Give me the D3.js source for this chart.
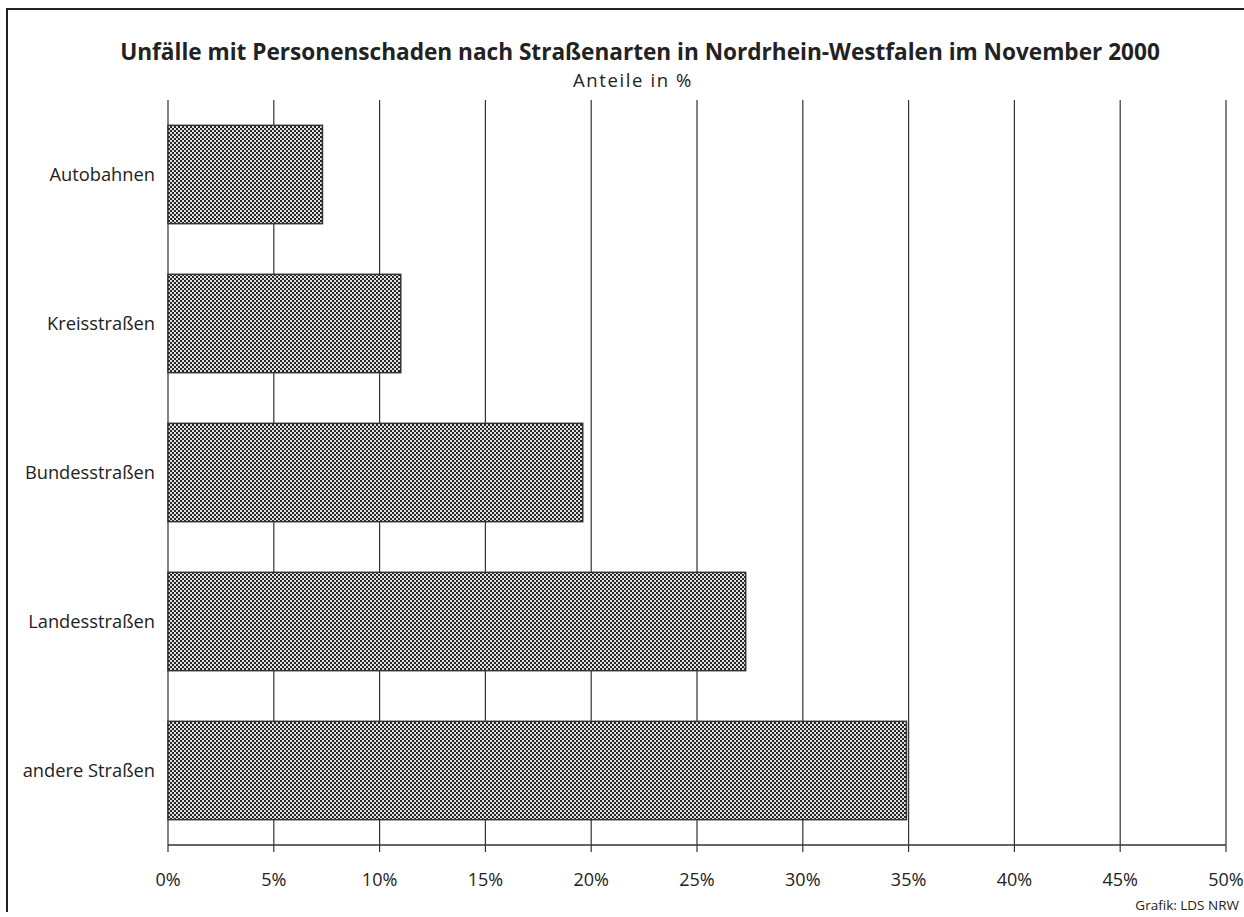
<!DOCTYPE html>
<html><head><meta charset="utf-8">
<script src="https://cdn.jsdelivr.net/npm/d3@7"></script>
<style>body{margin:0;background:#fff}svg{display:block}text{font-family:"Open Sans",sans-serif;fill:#222}</style>
</head><body><svg id="c" width="1244" height="917"></svg>
<script>
const categories = ["Autobahnen","Kreisstraßen","Bundesstraßen","Landesstraßen","andere Straßen"];
const values = [7.3, 11.0, 19.6, 27.3, 34.9];
const tickValues = [0,5,10,15,20,25,30,35,40,45,50];
const tickLabels = ["0%","5%","10%","15%","20%","25%","30%","35%","40%","45%","50%"];

const svg = d3.select("#c");
const defs = svg.append("defs");
const pat = defs.append("pattern").attr("id","chk").attr("patternUnits","userSpaceOnUse").attr("width",4).attr("height",4);
pat.append("rect").attr("width",4).attr("height",4).attr("fill","#e2e2e2");
pat.append("rect").attr("x",0).attr("y",0).attr("width",2).attr("height",2).attr("fill","#262626");
pat.append("rect").attr("x",2).attr("y",2).attr("width",2).attr("height",2).attr("fill","#262626");

// frame
svg.append("path").attr("d","M7,912 L7,9 L1244,9").attr("fill","none").attr("stroke","#222").attr("stroke-width",2);

const x = d3.scaleLinear().domain([0,50]).range([168,1226]);
const y = d3.scaleBand().domain(categories).range([100,845]).paddingInner(0.34).paddingOuter(0.17);

// gridlines
svg.append("g").selectAll("line").data(tickValues).join("line")
  .attr("x1",d=>x(d)).attr("x2",d=>x(d)).attr("y1",100).attr("y2",852)
  .attr("stroke","#333").attr("stroke-width",1.2);
// axis line
svg.append("line").attr("x1",x(0)).attr("x2",x(50)).attr("y1",845).attr("y2",845).attr("stroke","#333").attr("stroke-width",1.5);

// bars
svg.append("g").selectAll("rect").data(categories).join("rect")
  .attr("x",x(0)).attr("y",d=>y(d)).attr("width",(d,i)=>x(values[i])-x(0)).attr("height",y.bandwidth())
  .attr("fill","url(#chk)").attr("stroke","#333").attr("stroke-width",1.5);

// category labels
svg.append("g").selectAll("text").data(categories).join("text")
  .attr("x",155).attr("y",d=>y(d)+y.bandwidth()/2).attr("dy","0.35em").attr("text-anchor","end")
  .attr("font-size",18.3).text(d=>d);

// tick labels
svg.append("g").selectAll("text").data(tickValues).join("text")
  .attr("x",d=>x(d)).attr("y",886).attr("text-anchor","middle").attr("font-size",18)
  .text((d,i)=>tickLabels[i]);

svg.append("text").attr("x",640).attr("y",60).attr("text-anchor","middle").attr("font-size",22.6).attr("font-weight","bold")
  .text("Unfälle mit Personenschaden nach Straßenarten in Nordrhein-Westfalen im November 2000");
svg.append("text").attr("x",633).attr("y",87).attr("text-anchor","middle").attr("font-size",18.5).attr("letter-spacing",1.6)
  .text("Anteile in %");
svg.append("text").attr("x",1239).attr("y",910).attr("text-anchor","end").attr("font-size",13.5)
  .text("Grafik: LDS NRW");
</script></body></html>
